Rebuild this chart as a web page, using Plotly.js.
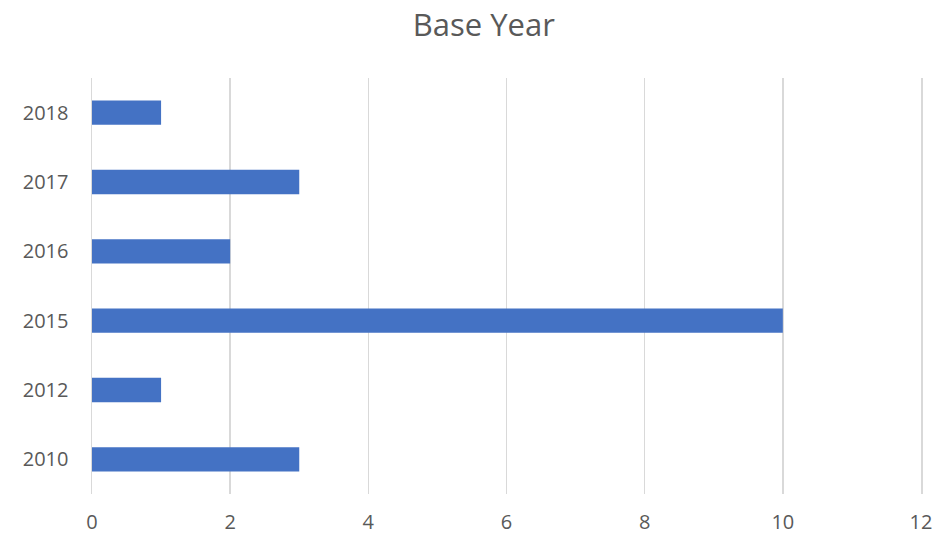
<!DOCTYPE html>
<html>
<head>
<meta charset="utf-8">
<script src="https://cdn.plot.ly/plotly-3.0.1.min.js"></script>
<style>html,body{margin:0;padding:0;background:#fff;}#chart{width:945px;height:535px;}</style>
</head>
<body>
<div id="chart"></div>
<script>
// Count of entries per base year
const years = ['2010', '2012', '2015', '2016', '2017', '2018'];
const counts = [3, 1, 10, 2, 3, 1];
const xTicks = [0, 2, 4, 6, 8, 10, 12];

const trace = {
  type: 'bar',
  orientation: 'h',
  y: years,
  x: counts,
  width: 0.35,
  marker: {color: '#4472C4'},
  hoverinfo: 'x+y'
};

const gridGrey = '#d9d9d9';

const layout = {
  width: 945,
  height: 535,
  margin: {l: 92, r: 24, t: 78, b: 41},
  paper_bgcolor: '#ffffff',
  plot_bgcolor: '#ffffff',
  font: {family: '"Open Sans", sans-serif', color: '#595959', size: 20},
  title: {
    text: 'Base Year',
    font: {size: 31, color: '#595959'},
    x: 0.512, xanchor: 'center',
    y: 0.953, yanchor: 'middle'
  },
  xaxis: {
    range: [0, 12],
    tickvals: xTicks,
    ticktext: xTicks.map(String),
    showgrid: true,
    gridcolor: gridGrey,
    gridwidth: 1.5,
    zeroline: false,
    showline: false,
    ticks: 'outside', ticklen: 10, tickcolor: 'rgba(0,0,0,0)',
    tickfont: {size: 20, color: '#595959'},
    fixedrange: true
  },
  yaxis: {
    type: 'category',
    categoryorder: 'array',
    categoryarray: years,
    range: [-0.5, 5.5],
    showgrid: false,
    zeroline: false,
    // left/right frame lines stand in for the gridlines at 0 and 12
    showline: true,
    mirror: true,
    linecolor: gridGrey,
    linewidth: 1.5,
    ticks: 'outside', ticklen: 18, tickcolor: 'rgba(0,0,0,0)',
    tickfont: {size: 20, color: '#595959'},
    fixedrange: true
  },
  bargap: 0.65,
  showlegend: false
};

Plotly.newPlot('chart', [trace], layout, {displayModeBar: false, staticPlot: true});
</script>
</body>
</html>
